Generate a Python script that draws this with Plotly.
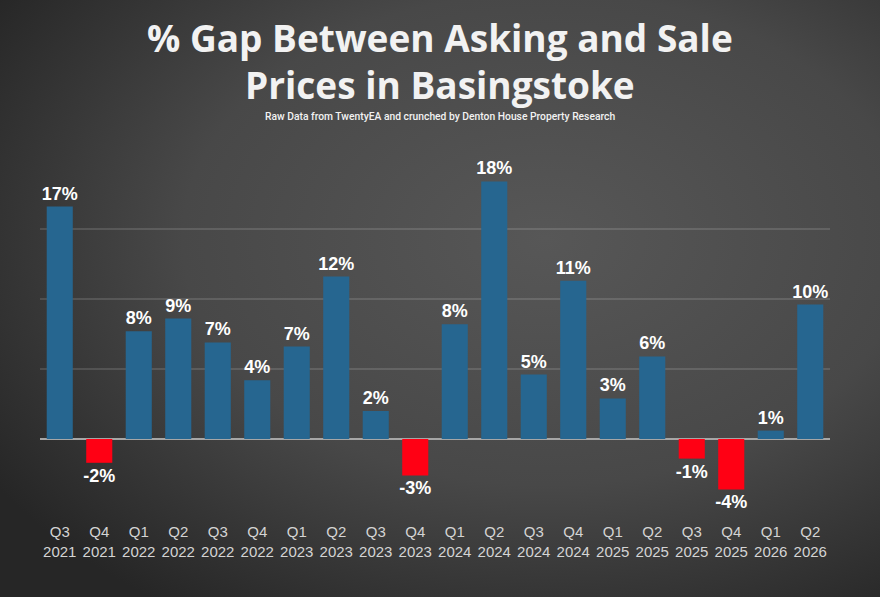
import plotly.graph_objects as go

# quarters and % gap
quarters = ["Q3<br>2021", "Q4<br>2021", "Q1<br>2022", "Q2<br>2022", "Q3<br>2022",
            "Q4<br>2022", "Q1<br>2023", "Q2<br>2023", "Q3<br>2023", "Q4<br>2023",
            "Q1<br>2024", "Q2<br>2024", "Q3<br>2024", "Q4<br>2024", "Q1<br>2025",
            "Q2<br>2025", "Q3<br>2025", "Q4<br>2025", "Q1<br>2026", "Q2<br>2026"]
gap = [16.6, -1.7, 7.7, 8.6, 6.9, 4.2, 6.6, 11.6, 2.0, -2.6,
       8.2, 18.4, 4.6, 11.3, 2.9, 5.9, -1.4, -3.6, 0.6, 9.6]
labels = ["17%", "-2%", "8%", "9%", "7%", "4%", "7%", "12%", "2%", "-3%",
          "8%", "18%", "5%", "11%", "3%", "6%", "-1%", "-4%", "1%", "10%"]

colours = ["#ff0014" if v < 0 else "#266690" for v in gap]

# radial gradient background as svg
bg_svg = (
    "data:image/svg+xml;utf8,"
    "<svg xmlns='http://www.w3.org/2000/svg' width='880' height='597'>"
    "<defs><radialGradient id='g' cx='62%' cy='40%' r='75%'>"
    "<stop offset='0%' stop-color='%23575757'/>"
    "<stop offset='55%' stop-color='%23484848'/>"
    "<stop offset='100%' stop-color='%23262626'/>"
    "</radialGradient></defs>"
    "<rect width='880' height='597' fill='url(%23g)'/></svg>"
)

L, R, T, B = 40, 50, 159, 88
pw, ph = 880 - L - R, 597 - T - B


def py(pixel_y):
    # page pixel y -> paper coordinate
    return 1 + (T - pixel_y) / ph


fig = go.Figure()
fig.add_trace(go.Bar(
    x=quarters, y=gap,
    marker=dict(color=colours, line=dict(width=0)),
    text=labels, textposition="outside", constraintext="none",
    textfont=dict(family="Liberation Sans", size=18, color="white", weight="bold"),
    cliponaxis=False,
    width=0.66,
))

title_font = dict(family="Open Sans", size=37, color="#f2f2f2", weight="bold")
cx = (440 - L) / pw

fig.update_layout(
    width=880, height=597,
    margin=dict(l=L, r=R, t=T, b=B),
    paper_bgcolor="#3c3c3c",
    plot_bgcolor="rgba(0,0,0,0)",
    showlegend=False,
    images=[dict(source=bg_svg, xref="paper", yref="paper", x=-L / pw, y=py(0),
                 sizex=880 / pw, sizey=597 / ph, sizing="stretch", layer="below",
                 xanchor="left", yanchor="top")],
    annotations=[
        dict(text="% Gap Between Asking and Sale", xref="paper", yref="paper",
             x=cx, y=py(37), xanchor="center", yanchor="middle",
             showarrow=False, font=title_font),
        dict(text="Prices in Basingstoke", xref="paper", yref="paper",
             x=cx, y=py(85), xanchor="center", yanchor="middle",
             showarrow=False, font=title_font),
        dict(text="Raw Data from TwentyEA and crunched by Denton House Property Research",
             xref="paper", yref="paper", x=cx, y=py(117),
             xanchor="center", yanchor="middle",
             showarrow=False,
             font=dict(family="Roboto", size=10.3, color="#f2f2f2", weight=500)),
    ],
)

fig.update_xaxes(
    showgrid=False, showline=False, ticks="",
    tickfont=dict(family="Liberation Sans", size=15, color="#d4d4d4"),
    ticklabelstandoff=12,
)
fig.update_yaxes(
    range=[-5, 20], dtick=5, showticklabels=False,
    showgrid=True, gridcolor="rgba(255,255,255,0.13)", gridwidth=1.5,
    zeroline=True, zerolinecolor="#a6a6a6", zerolinewidth=1.5,
)

fig.write_html("out.html", config={"displayModeBar": False},
               post_script="document.body.style.margin='0';")
